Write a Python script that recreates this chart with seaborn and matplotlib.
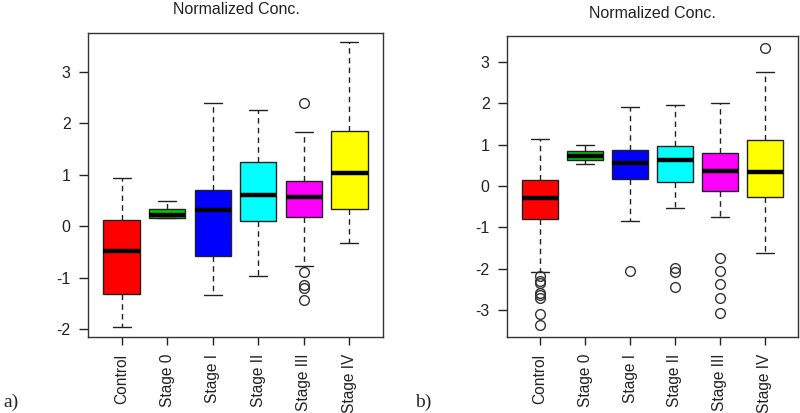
import numpy as np
import matplotlib
matplotlib.use("Agg")
import matplotlib.pyplot as plt
import seaborn as sns

# categories and colours
groups = ["Control", "Stage 0", "Stage I", "Stage II", "Stage III", "Stage IV"]
box_colors = ["#FF0000", "#00C800", "#0000FF", "#00FFFF", "#FF00FF", "#FFFF00"]

# panel a) five-number summaries
a_whislo = [-1.95, 0.15, -1.34, -0.97, -0.77, -0.32]
a_q1 = [-1.31, 0.16, -0.58, 0.10, 0.17, 0.34]
a_med = [-0.48, 0.21, 0.32, 0.61, 0.56, 1.03]
a_q3 = [0.12, 0.33, 0.70, 1.25, 0.88, 1.84]
a_whishi = [0.93, 0.49, 2.40, 2.26, 1.82, 3.58]
a_fliers = [[], [], [], [], [2.40, -0.89, -1.15, -1.20, -1.44], []]

# panel b)
b_whislo = [-2.07, 0.53, -0.85, -0.53, -0.74, -1.63]
b_q1 = [-0.79, 0.62, 0.18, 0.09, -0.11, -0.27]
b_med = [-0.30, 0.73, 0.56, 0.62, 0.36, 0.33]
b_q3 = [0.14, 0.85, 0.88, 0.97, 0.80, 1.11]
b_whishi = [1.15, 1.00, 1.92, 1.95, 2.02, 2.75]
b_fliers = [[-2.17, -2.30, -2.35, -2.58, -2.64, -2.70, -3.10, -3.35],
            [], [-2.06], [-1.98, -2.07, -2.45],
            [-1.75, -2.06, -2.38, -2.70, -3.08], [3.33]]

sns.set_theme(style="white")
plt.rcParams["font.family"] = ["Liberation Sans", "DejaVu Sans"]
plt.rcParams["axes.unicode_minus"] = False


def make_stats(lo, q1, med, q3, hi, fliers):
    return [dict(label=g, whislo=l, q1=a, med=m, q3=b, whishi=h, fliers=f)
            for g, l, a, m, b, h, f in zip(groups, lo, q1, med, q3, hi, fliers)]


def draw_panel(ax, stats, ylim, yticks):
    pos = np.arange(1, len(groups) + 1)
    bp = ax.bxp(stats, positions=pos, widths=0.8, patch_artist=True,
                capwidths=0.4, manage_ticks=False,
                boxprops=dict(edgecolor="#222222", linewidth=1.0),
                medianprops=dict(color="black", linewidth=3.2, solid_capstyle="butt"),
                whiskerprops=dict(color="#222222", linewidth=1.0, linestyle=(0, (4, 3))),
                capprops=dict(color="#222222", linewidth=1.0),
                flierprops=dict(marker="o", markerfacecolor="none",
                                markeredgecolor="#333333", markersize=7,
                                markeredgewidth=1.0))
    for patch, c in zip(bp["boxes"], box_colors):
        patch.set_facecolor(c)
    ax.set_xlim(0.26, 6.74)
    ax.set_ylim(*ylim)
    ax.set_xticks(pos)
    ax.set_xticklabels(groups, rotation=90, va="top", ha="center", fontsize=11.2)
    ax.set_yticks(yticks)
    ax.set_yticklabels([str(t) for t in yticks], fontsize=11.5)
    ax.tick_params(axis="y", direction="out", length=6.5, width=1, pad=6, colors="#222222",
                   left=True)
    ax.tick_params(axis="x", direction="out", length=6, width=1, pad=6, colors="#222222",
                   bottom=True)
    for s in ax.spines.values():
        s.set_color("#333333")
        s.set_linewidth(1.0)
    ax.grid(False)


fig = plt.figure(figsize=(8, 4.13), dpi=100)
ax1 = fig.add_axes([88 / 800, 1 - 337 / 413, (383 - 88) / 800, (337 - 33) / 413])
ax2 = fig.add_axes([507 / 800, 1 - 337 / 413, (798 - 507) / 800, (337 - 36) / 413])

draw_panel(ax1, make_stats(a_whislo, a_q1, a_med, a_q3, a_whishi, a_fliers),
           (-2.15, 3.75), [-2, -1, 0, 1, 2, 3])
draw_panel(ax2, make_stats(b_whislo, b_q1, b_med, b_q3, b_whishi, b_fliers),
           (-3.65, 3.63), [-3, -2, -1, 0, 1, 2, 3])

fig.text(236 / 800, 1 - 9 / 413, "Normalized Conc.", ha="center", va="center",
         fontsize=11.5, color="#222222")
fig.text(652 / 800, 1 - 13 / 413, "Normalized Conc.", ha="center", va="center",
         fontsize=11.5, color="#222222")
fig.text(3 / 800, 1 - 402 / 413, "a)", ha="left", va="center", fontsize=14,
         family=["Liberation Serif", "DejaVu Serif"])
fig.text(415 / 800, 1 - 402 / 413, "b)", ha="left", va="center", fontsize=14,
         family=["Liberation Serif", "DejaVu Serif"])

fig.savefig("out.png", dpi=100)
